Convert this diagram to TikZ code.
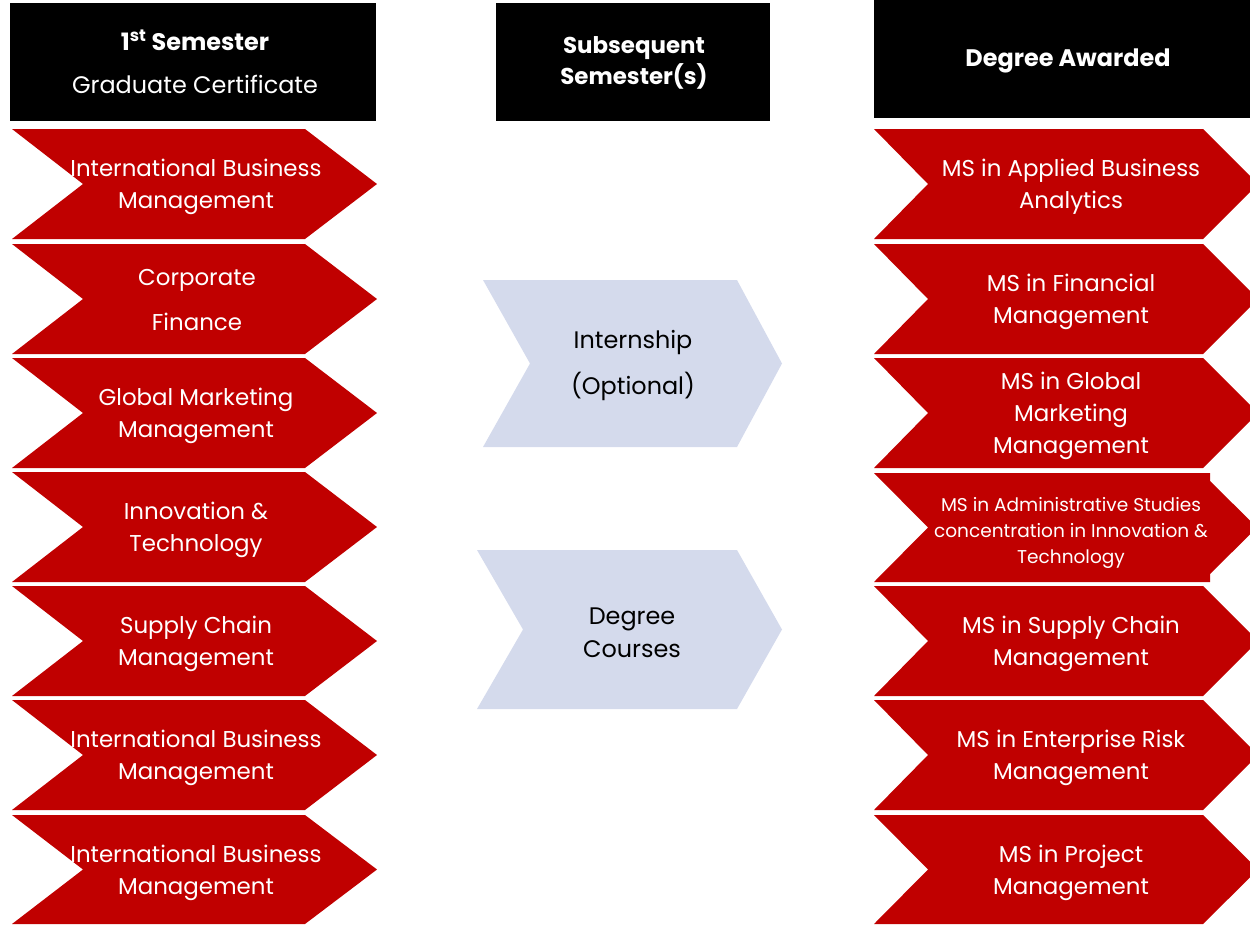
\documentclass[tikz,border=0pt]{standalone}
\usepackage{fontspec}
\setmainfont{Poppins}
\definecolor{cred}{RGB}{192,0,0}
\definecolor{cblue}{RGB}{212,218,236}
\newcommand\lchev[3]{\fill[cred] (12,#1) -- (305,#1) -- (377,{(#1+#2)/2}) -- (305,#2) -- (12,#2) -- (83,{(#1+#2)/2}) -- cycle;
  \coordinate (#3) at (196,{(#1+#2)/2});}
\newcommand\rchev[3]{\fill[cred] (874,#1) -- (1203,#1) -- (1258,{(#1+#2)/2}) -- (1203,#2) -- (874,#2) -- (928,{(#1+#2)/2}) -- cycle;
  \coordinate (#3) at (1071,{(#1+#2)/2});}
\tikzset{
  lbl/.style={text=white, align=center, inner sep=0pt, yshift=-3bp, font=\fontsize{23}{32}\selectfont},
  small/.style={text=white, align=center, inner sep=0pt, yshift=-3bp, font=\fontsize{18.6}{26}\selectfont},
  htxt/.style={text=white, align=center, inner sep=0pt},
  mtxt/.style={text=black, align=center, inner sep=0pt, yshift=-3bp, font=\fontsize{24}{33}\selectfont}
}
\begin{document}
\begin{tikzpicture}[x=1bp,y=-1bp]
\useasboundingbox (0,0) rectangle (1250,927);
\clip (0,0) rectangle (1250,927);
% headers
\fill[black] (10,3) rectangle (376,121);
\fill[black] (496,3) rectangle (770,121);
\fill[black] (874,0) rectangle (1250,118);
\node[htxt, font=\fontsize{24}{43}\selectfont] (h1) at (195,62) {\textbf{1\textsuperscript{st} Semester}\\Graduate Certificate};
\node[htxt, font=\fontsize{23}{31}\selectfont\bfseries] (h2) at (634,63) {Subsequent\\Semester(s)};
\node[htxt, font=\fontsize{24}{32}\selectfont\bfseries] (h3) at (1068,61) {Degree Awarded};
% left column
\lchev{129}{239}{L1}
\lchev{244}{354}{L2}
\lchev{358}{468}{L3}
\lchev{472}{582}{L4}
\lchev{586}{696}{L5}
\lchev{700}{810}{L6}
\lchev{815}{924}{L7}
\node[lbl] (l1) at (L1) {International Business\\Management};
\node[lbl] (l2) at (197,297) {Corporate\\[13bp]Finance};
\node[lbl] (l3) at (L3) {Global Marketing\\Management};
\node[lbl] (l4) at (L4) {Innovation \&\\Technology};
\node[lbl] (l5) at (L5) {Supply Chain\\Management};
\node[lbl] (l6) at (L6) {International Business\\Management};
\node[lbl] (l7) at (L7) {International Business\\Management};
% middle
\fill[cblue] (483,280) -- (737,280) -- (782,363.5) -- (737,447) -- (483,447) -- (530,363.5) -- cycle;
\fill[cblue] (477,550) -- (737,550) -- (782,629.5) -- (737,709) -- (477,709) -- (523,629.5) -- cycle;
\node[mtxt, font=\fontsize{24}{47}\selectfont] (m1) at (633,362.5) {Internship\\(Optional)};
\node[mtxt] (m2) at (632,629.5) {Degree\\Courses};
% right column
\rchev{129}{239}{R1}
\rchev{244}{354}{R2}
\rchev{358}{468}{R3}
\fill[cred] (874,473) -- (1210,473) -- (1210,481) -- (1257,527.5) -- (1210,574) -- (1210,582) -- (874,582) -- (928,527.5) -- cycle;
\coordinate (R4) at (1071,530);
\rchev{586}{696}{R5}
\rchev{700}{810}{R6}
\rchev{815}{924}{R7}
\node[lbl] (r1) at (R1) {MS in Applied Business\\Analytics};
\node[lbl] (r2) at (R2) {MS in Financial\\Management};
\node[lbl] (r3) at (R3) {MS in Global\\Marketing\\Management};
\node[small] (r4) at (R4) {MS in Administrative Studies\\concentration in Innovation \&\\Technology};
\node[lbl] (r5) at (R5) {MS in Supply Chain\\Management};
\node[lbl] (r6) at (R6) {MS in Enterprise Risk\\Management};
\node[lbl] (r7) at (R7) {MS in Project\\Management};
\end{tikzpicture}
\end{document}
